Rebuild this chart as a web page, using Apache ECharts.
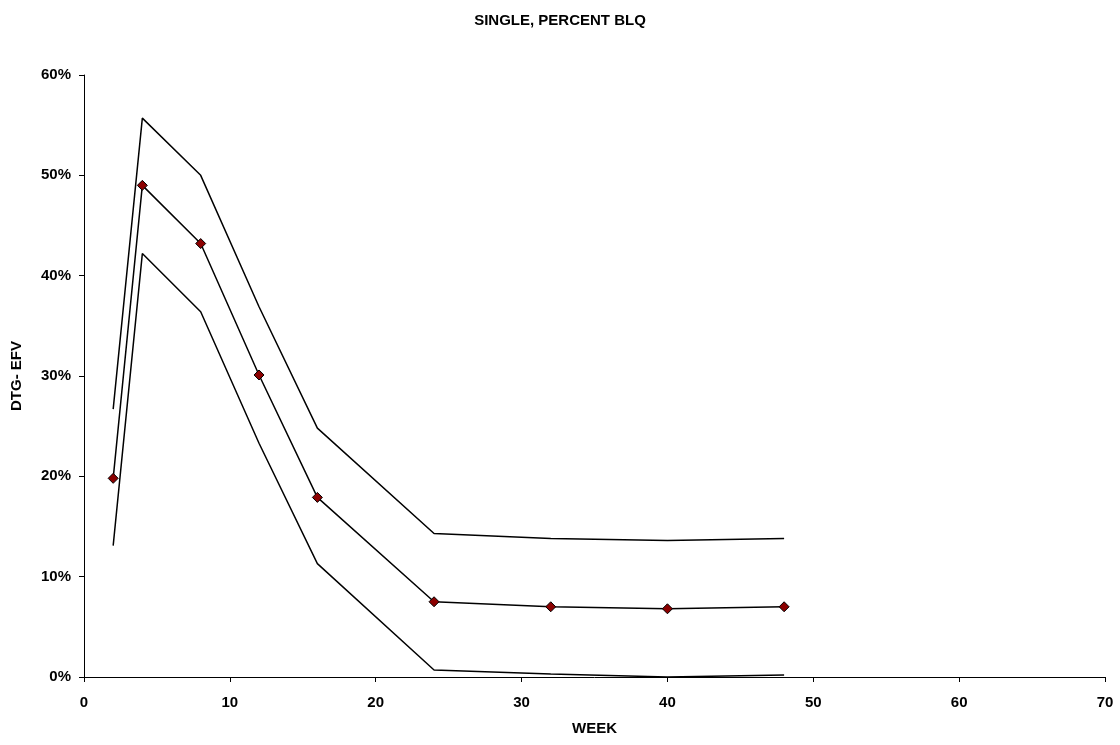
<!DOCTYPE html>
<html><head><meta charset="utf-8">
<script src="https://cdn.jsdelivr.net/npm/echarts@6/dist/echarts.min.js"></script>
<style>html,body{margin:0;padding:0;background:#fff}#c{width:1120px;height:745px}</style>
</head><body><div id="c"></div>
<script>
const weeks = [2, 4, 8, 12, 16, 24, 32, 40, 48];
const mean = [19.8, 49.0, 43.2, 30.1, 17.9, 7.5, 7.0, 6.8, 7.0];
const upper = [26.7, 55.7, 50.0, 36.9, 24.8, 14.3, 13.8, 13.6, 13.8];
const lower = [13.1, 42.2, 36.4, 23.3, 11.3, 0.7, 0.3, 0.0, 0.2];
const xTicks = [0, 10, 20, 30, 40, 50, 60, 70];
const yTicks = [0, 10, 20, 30, 40, 50, 60];

const pair = arr => weeks.map((w, i) => [w, arr[i]]);
const font = 'Liberation Sans, Arial, sans-serif';
const chart = echarts.init(document.getElementById('c'), null, {renderer: 'canvas'});
const lineStyle = {color: '#000', width: 1.5};
chart.setOption({
  animation: false,
  backgroundColor: '#fff',
  title: {text: 'SINGLE, PERCENT BLQ', left: 'center', top: 8,
    textStyle: {fontFamily: font, fontSize: 15, fontWeight: 'bold', color: '#000'}},
  grid: {left: 84, right: 15, top: 75, bottom: 68},
  xAxis: {type: 'value', min: xTicks[0], max: xTicks[xTicks.length - 1], interval: 10,
    name: 'WEEK', nameLocation: 'middle', nameGap: 44,
    nameTextStyle: {fontFamily: font, fontSize: 15, fontWeight: 'bold', color: '#000', verticalAlign: 'top'},
    axisLine: {show: true, lineStyle: {color: '#000', width: 1}},
    axisTick: {show: true, length: 5, lineStyle: {color: '#000'}},
    axisLabel: {fontFamily: font, fontSize: 15, fontWeight: 'bold', color: '#000', margin: 18},
    splitLine: {show: false}},
  yAxis: {type: 'value', min: yTicks[0], max: yTicks[yTicks.length - 1], interval: 10,
    name: 'DTG- EFV', nameLocation: 'middle', nameGap: 60, nameRotate: 90,
    nameTextStyle: {fontFamily: font, fontSize: 15, fontWeight: 'bold', color: '#000'},
    axisLine: {show: true, lineStyle: {color: '#000', width: 1}},
    axisTick: {show: true, length: 5, lineStyle: {color: '#000'}},
    axisLabel: {fontFamily: font, fontSize: 15, fontWeight: 'bold', color: '#000', margin: 13,
      formatter: v => v + '%'},
    splitLine: {show: false}},
  series: [
    {type: 'line', data: pair(upper), showSymbol: false, symbol: 'none', lineStyle, z: 2},
    {type: 'line', data: pair(lower), showSymbol: false, symbol: 'none', lineStyle, z: 2},
    {type: 'line', data: pair(mean), symbol: 'diamond', symbolSize: 10, lineStyle,
      itemStyle: {color: '#8B0000', borderColor: '#000', borderWidth: 1}, z: 3}
  ]
});
</script></body></html>
